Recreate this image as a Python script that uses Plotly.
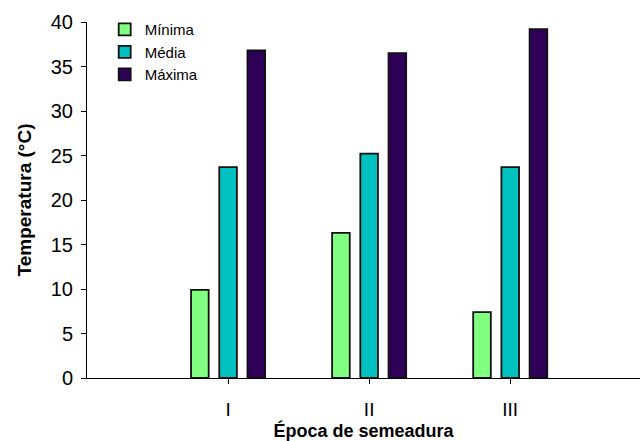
import plotly.graph_objects as go

categories = ["I", "II", "III"]
minima = [9.9, 16.3, 7.4]
media = [23.7, 25.2, 23.7]
maxima = [36.8, 36.5, 39.2]
series_names = ["Mínima", "Média", "Máxima"]
series_colors = ["#80FF80", "#00C0C0", "#2E0057"]

fig = go.Figure()
for name, vals, col in zip(series_names, [minima, media, maxima], series_colors):
    fig.add_trace(go.Bar(
        x=list(range(len(categories))), y=vals, name=name,
        marker=dict(color=col, line=dict(color="#111111", width=1.8)),
    ))

fig.update_layout(
    width=641, height=441,
    margin=dict(l=87, r=1, t=22, b=63, autoexpand=False),
    paper_bgcolor="white", plot_bgcolor="white",
    barmode="group", bargap=0.4, bargroupgap=0.375,
    font=dict(family="Liberation Sans, Arial", size=18, color="black"),
    showlegend=True,
    legend=dict(x=0.032, y=1.025, xanchor="left", yanchor="top",
                bgcolor="rgba(0,0,0,0)", font=dict(size=15),
                tracegroupgap=0, itemwidth=30),
    xaxis=dict(
        range=[-1, 2.92], tickmode="array",
        tickvals=list(range(len(categories))), ticktext=categories,
        showline=True, linecolor="black", linewidth=1,
        ticks="outside", ticklen=5, tickcolor="black",
        tickfont=dict(size=19), ticklabelstandoff=9,
        showgrid=False, zeroline=False, automargin=False,
        title=dict(text="<b>Época de semeadura</b>", standoff=4,
                   font=dict(size=18)),
    ),
    yaxis=dict(
        range=[0, 40], dtick=5,
        showline=True, linecolor="black", linewidth=1,
        ticks="outside", ticklen=5, tickcolor="black",
        tickfont=dict(size=20), ticklabelstandoff=4,
        showgrid=False, zeroline=False, automargin=False,
        title=dict(text="<b>Temperatura (°C)</b>", standoff=14,
                   font=dict(size=19)),
    ),
)

fig.write_html("out.html", config={"displayModeBar": False},
               post_script="document.body.style.margin='0';document.body.style.overflow='hidden';")
